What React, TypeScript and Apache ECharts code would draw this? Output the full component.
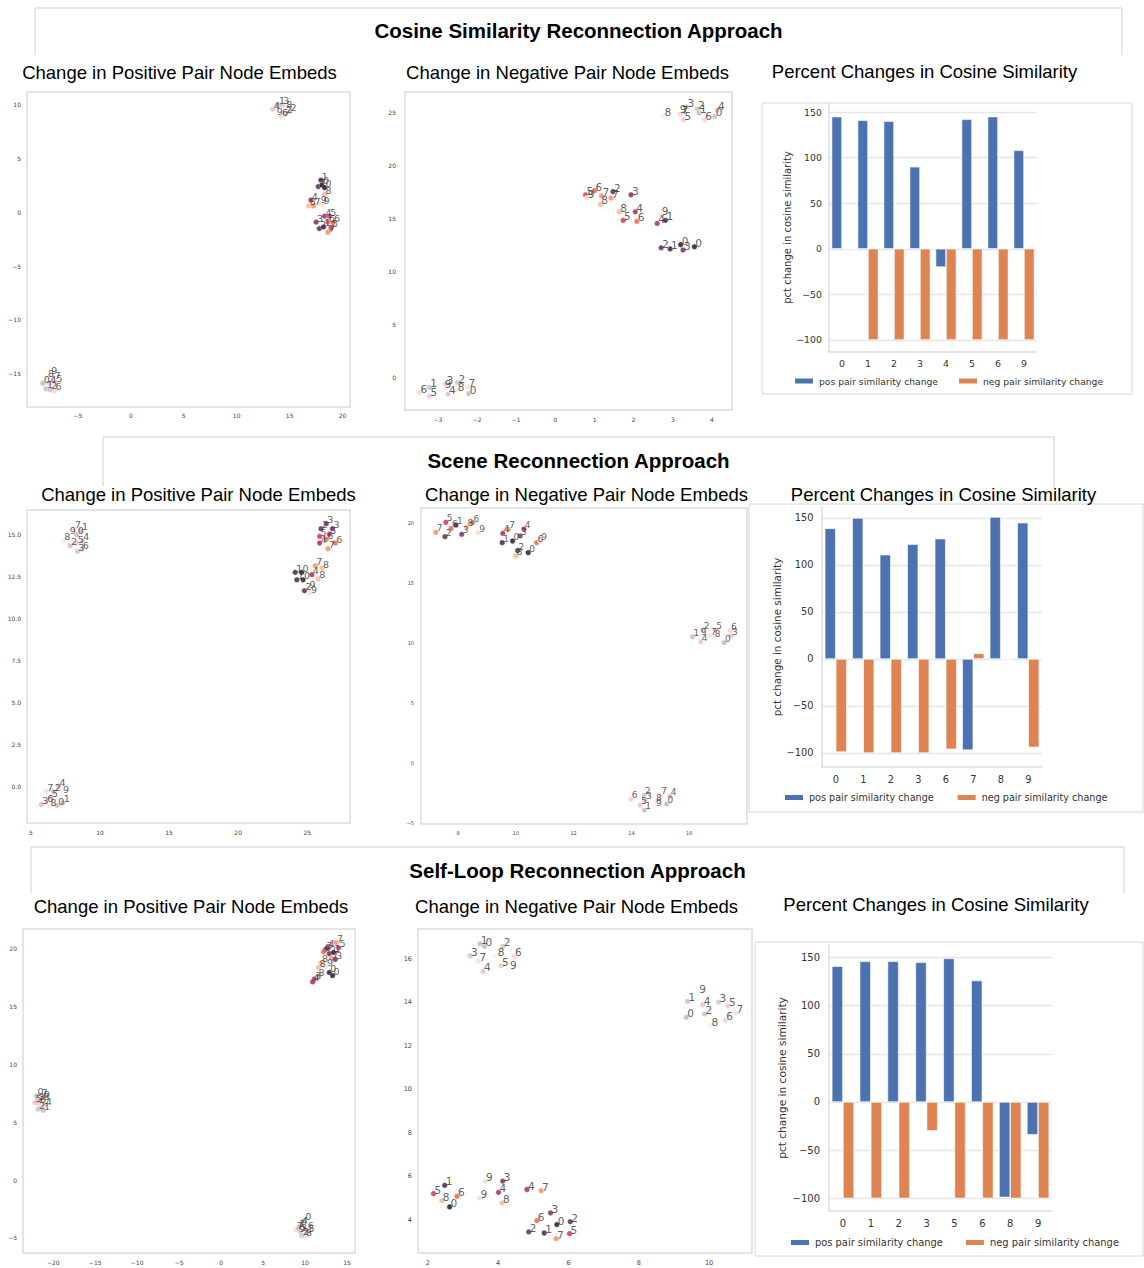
import React, { useEffect, useRef } from 'react';
import * as echarts from 'echarts';

// ---------------- DATA ----------------
// Colour of each node follows its class digit (seaborn "rocket"-like ramp)
const digitPalette = ['#170d25', '#331541', '#521b50', '#781f59', '#a91a5a', '#dc2150', '#f05a3f', '#f48a5d', '#f6b38e', '#f9dcc6'];

// scatter points: [x, y, digit, faded(0/1)]
const cosinePosEmbeds = [
  [13.4, 9.6, 4, 1], [13.9, 10.0, 1, 1], [14.3, 10.0, 3, 1], [14.6, 9.7, 8, 1], [15.0, 9.4, 2, 1],
  [13.7, 9.0, 9, 1], [14.2, 8.9, 6, 1], [14.6, 9.2, 2, 1],
  [17.95, 3.0, 1, 0], [17.7, 2.4, 2, 0], [18.05, 2.55, 0, 0], [18.3, 2.3, 0, 0], [18.3, 1.7, 8, 0],
  [17.0, 1.15, 4, 0], [16.8, 0.6, 8, 0], [17.25, 0.6, 7, 0], [17.85, 0.8, 9, 0], [18.1, 0.75, 9, 0],
  [18.3, -0.35, 4, 0], [18.75, -0.35, 5, 0], [17.5, -0.9, 3, 0], [19.1, -0.95, 6, 0], [17.8, -1.5, 2, 0],
  [18.2, -1.35, 1, 0], [18.9, -1.45, 5, 0], [18.6, -1.85, 7, 0], [18.6, -0.9, 6, 0],
  [-7.6, -15.1, 9, 1], [-7.9, -15.4, 8, 1], [-7.3, -15.5, 7, 1], [-7.1, -15.8, 5, 1], [-8.3, -15.9, 0, 1],
  [-7.7, -15.9, 4, 1], [-8.0, -16.4, 1, 1], [-7.6, -16.5, 2, 1], [-7.2, -16.6, 6, 1],
];
const cosineNegEmbeds = [
  [2.76, 24.6, 8, 1], [3.15, 24.9, 9, 1], [3.2, 24.8, 7, 1], [3.35, 25.5, 3, 1], [3.27, 24.3, 5, 1],
  [3.62, 25.3, 2, 1], [3.67, 24.9, 1, 1], [3.8, 24.3, 6, 1], [4.07, 24.6, 0, 1], [4.13, 25.2, 4, 1],
  [0.77, 17.2, 5, 0], [0.8, 16.9, 9, 0], [1.0, 17.6, 6, 0], [1.18, 17.1, 7, 0], [1.47, 17.5, 2, 0],
  [1.42, 16.9, 7, 0], [1.15, 16.3, 8, 0], [1.93, 17.2, 3, 0], [1.63, 15.6, 8, 0], [1.73, 14.8, 5, 0],
  [2.04, 15.6, 4, 0], [2.08, 14.7, 6, 0], [2.69, 15.3, 9, 0], [2.81, 14.8, 1, 0], [2.6, 14.5, 4, 0],
  [2.7, 12.2, 2, 0], [2.93, 12.1, 1, 0], [3.2, 12.5, 0, 0], [3.26, 12.0, 3, 0], [3.55, 12.3, 0, 0],
  [-3.47, -1.45, 6, 1], [-3.22, -0.97, 1, 1], [-3.21, -1.76, 5, 1], [-2.8, -0.65, 3, 1], [-2.85, -1.06, 9, 1],
  [-2.74, -1.6, 4, 1], [-2.5, -0.52, 2, 1], [-2.52, -1.28, 8, 1], [-2.24, -0.92, 7, 1], [-2.21, -1.55, 0, 1],
];
const scenePosEmbeds = [
  [8.12, 15.36, 7, 1], [8.62, 15.2, 1, 1], [7.73, 14.96, 9, 1], [8.31, 14.96, 0, 1], [7.34, 14.6, 8, 1],
  [7.83, 14.3, 2, 1], [8.31, 14.47, 5, 1], [8.72, 14.6, 4, 1], [8.36, 13.97, 3, 1], [8.67, 14.1, 6, 1],
  [26.38, 15.62, 3, 0], [26.0, 15.32, 2, 0], [26.83, 15.32, 3, 0], [25.9, 14.87, 5, 0], [26.6, 15.0, 5, 0],
  [25.9, 14.47, 4, 0], [26.38, 14.7, 6, 0], [27.03, 14.47, 6, 0], [26.5, 14.13, 7, 0],
  [24.13, 12.73, 1, 0], [24.6, 12.73, 0, 0], [24.25, 12.29, 1, 0], [24.7, 12.29, 0, 0], [25.58, 13.12, 7, 0],
  [26.07, 12.98, 8, 0], [25.34, 12.59, 4, 0], [25.8, 12.35, 8, 0], [24.8, 11.64, 2, 0], [25.2, 11.5, 9, 0],
  [25.1, 11.8, 9, 0],
  [7.0, 0.05, 4, 1], [6.1, -0.25, 7, 1], [6.65, -0.3, 2, 1], [7.25, -0.4, 9, 1], [6.45, -0.6, 5, 1],
  [5.75, -1.05, 3, 1], [6.1, -0.9, 6, 1], [6.35, -1.15, 8, 1], [6.9, -1.1, 0, 1], [7.3, -0.95, 1, 1],
];
const sceneNegEmbeds = [
  [7.23, 19.22, 7, 0], [7.58, 20.06, 5, 0], [7.76, 19.56, 6, 0], [7.93, 19.83, 1, 0], [7.55, 18.86, 2, 0],
  [8.3, 19.64, 8, 0], [8.5, 20.03, 6, 0], [8.13, 19.06, 3, 0], [8.7, 19.2, 9, 0],
  [9.74, 19.47, 7, 0], [9.55, 19.14, 4, 0], [10.28, 19.5, 4, 0], [10.15, 18.92, 3, 0], [9.53, 18.36, 1, 0],
  [9.89, 18.5, 0, 0], [10.72, 18.36, 6, 0], [10.85, 18.5, 9, 0], [10.06, 17.7, 2, 0], [10.43, 17.53, 0, 0],
  [10.0, 17.25, 8, 0],
  [16.12, 10.53, 1, 1], [16.37, 10.58, 9, 1], [16.47, 11.08, 2, 1], [16.4, 10.11, 4, 1], [16.72, 10.6, 7, 1],
  [16.9, 11.08, 5, 1], [16.85, 10.43, 8, 1], [17.41, 11.03, 6, 1], [17.45, 10.6, 3, 1], [17.21, 10.03, 0, 1],
  [13.98, -3.0, 6, 1], [14.44, -2.67, 2, 1], [14.47, -3.08, 3, 1], [14.3, -3.5, 5, 1], [14.45, -3.92, 1, 1],
  [14.82, -3.22, 8, 1], [15.0, -2.67, 7, 1], [14.82, -3.7, 9, 1], [15.33, -2.75, 4, 1], [15.22, -3.42, 0, 1],
];
const selfPosEmbeds = [
  [13.69, 20.56, 7, 0], [14.0, 20.1, 5, 0], [12.69, 20.1, 4, 0], [12.41, 19.95, 3, 0], [12.2, 19.75, 6, 0],
  [12.89, 19.6, 2, 0], [13.4, 19.7, 1, 0], [13.17, 19.2, 7, 0], [13.6, 19.1, 3, 0], [11.9, 18.8, 8, 0],
  [11.6, 18.4, 8, 0], [12.49, 18.5, 9, 0], [12.89, 17.97, 0, 0], [13.28, 17.7, 0, 0], [11.1, 17.4, 3, 0],
  [10.9, 17.15, 4, 0], [11.5, 17.6, 8, 0],
  [-22.0, 7.3, 0, 1], [-21.5, 7.2, 7, 1], [-21.2, 7.1, 9, 1], [-21.9, 6.9, 3, 1], [-21.3, 6.85, 8, 1],
  [-22.2, 6.7, 5, 1], [-21.7, 6.6, 6, 1], [-21.0, 6.5, 4, 1], [-21.8, 6.15, 2, 1], [-21.2, 6.05, 1, 1],
  [9.9, -3.5, 0, 1], [9.5, -3.8, 4, 1], [9.2, -4.1, 1, 1], [10.2, -4.3, 6, 1], [9.2, -4.5, 9, 1],
  [10.3, -4.5, 5, 1], [9.6, -4.8, 2, 1], [10.0, -4.9, 8, 1], [9.4, -4.4, 3, 1], [8.9, -4.3, 7, 1],
];
const selfNegEmbeds = [
  [3.48, 16.7, 1, 1], [3.61, 16.58, 0, 1], [4.13, 16.58, 2, 1], [3.2, 16.15, 3, 1], [3.44, 15.9, 7, 1],
  [3.96, 16.15, 8, 1], [4.45, 16.12, 6, 1], [4.08, 15.69, 5, 1], [4.31, 15.54, 9, 1], [3.57, 15.43, 4, 1],
  [9.69, 14.44, 9, 1], [9.39, 14.05, 1, 1], [9.82, 13.9, 4, 1], [10.27, 14.02, 3, 1], [10.54, 13.85, 5, 1],
  [10.75, 13.52, 7, 1], [9.87, 13.47, 2, 1], [9.35, 13.32, 0, 1], [10.46, 13.18, 6, 1], [10.04, 12.93, 8, 1],
  [2.48, 5.59, 1, 0], [2.16, 5.21, 5, 0], [2.4, 4.89, 8, 0], [2.83, 5.09, 6, 0], [2.62, 4.6, 0, 0],
  [3.63, 5.78, 9, 0], [4.13, 5.78, 3, 0], [4.01, 5.27, 4, 0], [3.47, 5.01, 9, 0], [4.11, 4.78, 8, 0],
  [4.82, 5.4, 4, 0], [5.22, 5.35, 7, 0], [5.49, 4.32, 3, 0], [5.1, 3.97, 6, 0], [5.67, 3.79, 0, 0],
  [6.05, 3.92, 2, 0], [4.87, 3.45, 2, 0], [5.31, 3.4, 1, 0], [5.65, 3.14, 7, 0], [6.03, 3.37, 5, 0],
];

// bar data
const cosineClasses = ['0', '1', '2', '3', '4', '5', '6', '9'];
const cosinePosChange = [145, 141, 140, 90, -20, 142, 145, 108];
const cosineNegChange = [0, -100, -100, -100, -100, -100, -100, -100];
const sceneClasses = ['0', '1', '2', '3', '6', '7', '8', '9'];
const scenePosChange = [139, 150, 111, 122, 128, -97, 151, 145];
const sceneNegChange = [-99, -100, -100, -100, -96, 6, 0, -94];
const selfClasses = ['0', '1', '2', '3', '5', '6', '8', '9'];
const selfPosChange = [141, 146, 146, 145, 149, 126, -99, -34];
const selfNegChange = [-100, -100, -100, -30, -100, -100, -100, -100];

// tick labels
const s1XTicks = [-5, 0, 5, 10, 15, 20];
const s1YTicks = [-15, -10, -5, 0, 5, 10];
const s2XTicks = [-3, -2, -1, 0, 1, 2, 3, 4];
const s2YTicks = [0, 5, 10, 15, 20, 25];
const s3XTicks = [5, 10, 15, 20, 25];
const s3YTicks = [0, 2.5, 5, 7.5, 10, 12.5, 15];
const s4XTicks = [8, 10, 12, 14, 16];
const s4YTicks = [-5, 0, 5, 10, 15, 20];
const s5XTicks = [-20, -15, -10, -5, 0, 5, 10, 15];
const s5YTicks = [-5, 0, 5, 10, 15, 20];
const s6XTicks = [2, 4, 6, 8, 10];
const s6YTicks = [4, 6, 8, 10, 12, 14, 16];
const barYTicks = [-100, -50, 0, 50, 100, 150];

// texts
const sectionTitles = ['Cosine Similarity Reconnection Approach', 'Scene Reconnection Approach', 'Self-Loop Reconnection Approach'];
const posTitle = 'Change in Positive Pair Node Embeds';
const negTitle = 'Change in Negative Pair Node Embeds';
const pctTitle = 'Percent Changes in Cosine Similarity';
const legendNames = ['pos pair similarity change', 'neg pair similarity change'];
const barYAxisName = 'pct change in cosine similarity';

// ---------------- LAYOUT ----------------
const scatterPanels = [
  { data: cosinePosEmbeds, left: 27, top: 92, width: 323, height: 315, x: [-9.8, 20.7], y: [-18.1, 11.2], xt: s1XTicks, yt: s1YTicks, tf: 6, pf: 9.5, xm: 5, ym: 6, yd: 0 },
  { data: cosineNegEmbeds, left: 405, top: 92, width: 327, height: 318, x: [-3.84, 4.51], y: [-3.1, 26.9], xt: s2XTicks, yt: s2YTicks, tf: 6, pf: 10.5, xm: 6, ym: 9, yd: 0 },
  { data: scenePosEmbeds, left: 27, top: 510, width: 323, height: 313, x: [4.71, 28.1], y: [-2.14, 16.43], xt: s3XTicks, yt: s3YTicks, tf: 6, pf: 9.5, xm: 6, ym: 6, yd: 1 },
  { data: sceneNegEmbeds, left: 421, top: 508, width: 326, height: 316, x: [6.72, 18.0], y: [-5.08, 21.25], xt: s4XTicks, yt: s4YTicks, tf: 5, pf: 9, xm: 6, ym: 7, yd: 0 },
  { data: selfPosEmbeds, left: 23, top: 929, width: 332, height: 324, x: [-23.6, 15.95], y: [-6.3, 21.73], xt: s5XTicks, yt: s5YTicks, tf: 6, pf: 9.5, xm: 6, ym: 6, yd: 0 },
  { data: selfNegEmbeds, left: 418, top: 929, width: 334, height: 324, x: [1.72, 11.22], y: [2.48, 17.38], xt: s6XTicks, yt: s6YTicks, tf: 6.5, pf: 10.5, xm: 6, ym: 6, yd: 0 },
];

const barPanels = [
  { cats: cosineClasses, pos: cosinePosChange, neg: cosineNegChange, left: 829, top: 103, width: 208, height: 249, y: [-113.2, 159.9], f: 9.4, nf: 10, ym: 7, ng: 36,
    lg: { left: 793, top: 376.5, gap: 19, f: 9.2 }, frame: [762, 103, 370, 291] },
  { cats: sceneClasses, pos: scenePosChange, neg: sceneNegChange, left: 822, top: 507, width: 220, height: 260, y: [-114.9, 161.7], f: 9.8, nf: 10.4, ym: 8.5, ng: 40,
    lg: { left: 783, top: 792.5, gap: 22, f: 9.65 }, frame: [749, 504, 394, 308] },
  { cats: selfClasses, pos: selfPosChange, neg: selfNegChange, left: 829, top: 945, width: 223, height: 266, y: [-113.1, 162.9], f: 10, nf: 10.6, ym: 9, ng: 42,
    lg: { left: 789, top: 1237.5, gap: 21, f: 9.9 }, frame: [755, 942, 388, 314] },
];

const sectionLayout = [
  { cx: 578.5, cy: 30, box: [[35, 55], [35, 8], [1122, 8], [1122, 55]] },
  { cx: 578.5, cy: 460, box: [[103, 486], [103, 437], [1054, 437], [1054, 488]] },
  { cx: 577.5, cy: 870, box: [[31, 893], [31, 847], [1124, 847], [1124, 893]] },
];
const subtitleLayout = [
  [[179.5, 72], [567.5, 72], [924.5, 71]],
  [[198.5, 494], [586.5, 494], [943.5, 494]],
  [[191, 906], [576.5, 906], [936, 904]],
];

const BLUE = '#4c72b0';
const ORANGE = '#dd8452';
const SANS = '"DejaVu Sans", sans-serif';
const TITLE_FONT = '"Liberation Sans", Arial, sans-serif';

function hexToRgba(hex: string, a: number) {
  const n = parseInt(hex.slice(1), 16);
  return `rgba(${(n >> 16) & 255},${(n >> 8) & 255},${n & 255},${a})`;
}
function fmt(v: number, d: number) {
  const s = d ? Math.abs(v).toFixed(d) : String(Math.abs(v));
  return v < 0 ? '\u2212' + s : s;
}

function buildOption() {
  const grid: any[] = [];
  const xAxis: any[] = [];
  const yAxis: any[] = [];
  const series: any[] = [];
  const legend: any[] = [];
  const graphic: any[] = [];

  scatterPanels.forEach((p, i) => {
    grid.push({ left: p.left, top: p.top, width: p.width, height: p.height, show: true, borderColor: '#dcdcdc', borderWidth: 1.5, backgroundColor: '#fff' });
    xAxis.push({
      type: 'value', gridIndex: i, min: p.x[0], max: p.x[1],
      axisLine: { show: false }, axisTick: { show: false }, splitLine: { show: false },
      axisLabel: { customValues: p.xt, formatter: (v: number) => fmt(v, 0), fontSize: p.tf, color: '#444', fontFamily: SANS, margin: p.xm },
    });
    yAxis.push({
      type: 'value', gridIndex: i, min: p.y[0], max: p.y[1],
      axisLine: { show: false }, axisTick: { show: false }, splitLine: { show: false },
      axisLabel: { customValues: p.yt, formatter: (v: number) => fmt(v, p.yd), fontSize: p.tf, color: '#444', fontFamily: SANS, margin: p.ym },
    });
    series.push({
      type: 'scatter', xAxisIndex: i, yAxisIndex: i, data: p.data, symbolSize: 5.5,
      itemStyle: {
        color: (q: any) => (q.value[3] ? hexToRgba(digitPalette[q.value[2]], 0.3) : digitPalette[q.value[2]]),
        borderColor: '#fff', borderWidth: 0.4,
      },
      label: {
        show: true, position: 'right', distance: 0, offset: [-2, -4],
        formatter: (q: any) => String(q.value[2]), fontSize: p.pf, color: '#333', fontFamily: SANS,
      },
      emphasis: { disabled: true },
    });
  });

  barPanels.forEach((b, j) => {
    const gi = scatterPanels.length + j;
    grid.push({ left: b.left, top: b.top, width: b.width, height: b.height });
    xAxis.push({
      type: 'category', gridIndex: gi, data: b.cats,
      axisLine: { show: true, onZero: false, lineStyle: { color: '#dedede', width: 1.5 } },
      axisTick: { show: false },
      axisLabel: { fontSize: b.f, color: '#333', fontFamily: SANS, margin: 7 },
    });
    yAxis.push({
      type: 'value', gridIndex: gi, min: b.y[0], max: b.y[1], splitNumber: 5,
      axisLine: { show: true, lineStyle: { color: '#dedede', width: 1.5 } },
      axisTick: { show: false },
      splitLine: { show: true, showMinLine: false, showMaxLine: false, lineStyle: { color: '#e6e6e6', width: 1.3 } },
      axisLabel: { customValues: barYTicks, formatter: (v: number) => fmt(v, 0), fontSize: b.f, color: '#333', fontFamily: SANS, margin: b.ym },
      name: barYAxisName, nameLocation: 'middle', nameGap: b.ng,
      nameTextStyle: { fontSize: b.nf, color: '#333', fontFamily: SANS },
    });
    series.push({
      type: 'bar', name: legendNames[0], xAxisIndex: gi, yAxisIndex: gi, data: b.pos,
      barWidth: '40%', barGap: '0%', itemStyle: { color: BLUE, borderColor: '#fff', borderWidth: 0.6 },
      emphasis: { disabled: true },
    });
    series.push({
      type: 'bar', name: legendNames[1], xAxisIndex: gi, yAxisIndex: gi, data: b.neg,
      barWidth: '40%', barGap: '0%', itemStyle: { color: ORANGE, borderColor: '#fff', borderWidth: 0.6 },
      emphasis: { disabled: true },
    });
    legend.push({
      data: legendNames, left: b.lg.left, top: b.lg.top, orient: 'horizontal', padding: 0,
      itemWidth: 20, itemHeight: 7, itemGap: b.lg.gap, icon: 'rect', selectedMode: false,
      textStyle: { fontSize: b.lg.f, color: '#333', fontFamily: SANS },
    });
    graphic.push({
      type: 'rect', silent: true, z: -1,
      shape: { x: b.frame[0], y: b.frame[1], width: b.frame[2], height: b.frame[3] },
      style: { fill: 'none', stroke: '#d8d8d8', lineWidth: 1 },
    });
  });

  sectionLayout.forEach((s, k) => {
    graphic.push({ type: 'polyline', silent: true, shape: { points: s.box }, style: { fill: 'none', stroke: '#cfcfcf', lineWidth: 1 } });
    graphic.push({
      type: 'text', x: s.cx, y: s.cy, silent: true,
      style: { text: sectionTitles[k], fill: '#000', fontSize: 20.5, fontWeight: 'bold', fontFamily: TITLE_FONT, align: 'center', verticalAlign: 'middle', textAlign: 'center', textVerticalAlign: 'middle' },
    });
    const subs = [posTitle, negTitle, pctTitle];
    subtitleLayout[k].forEach((pt, m) => {
      graphic.push({
        type: 'text', x: pt[0], y: pt[1], silent: true,
        style: { text: subs[m], fill: '#000', fontSize: 18.5, fontFamily: TITLE_FONT, align: 'center', verticalAlign: 'middle', textAlign: 'center', textVerticalAlign: 'middle' },
      });
    });
  });

  return {
    animation: false,
    backgroundColor: '#fff',
    grid, xAxis, yAxis, series, legend, graphic,
  };
}

export default function App() {
  const ref = useRef<HTMLDivElement>(null);
  useEffect(() => {
    if (!ref.current) return;
    const chart = echarts.init(ref.current, undefined, { renderer: 'svg' });
    chart.setOption(buildOption() as any);
    return () => chart.dispose();
  }, []);
  return (
    <div
      ref={ref}
      style={{ position: 'absolute', left: 0, top: 0, width: 1144, height: 1268, background: '#fff' }}
    />
  );
}
